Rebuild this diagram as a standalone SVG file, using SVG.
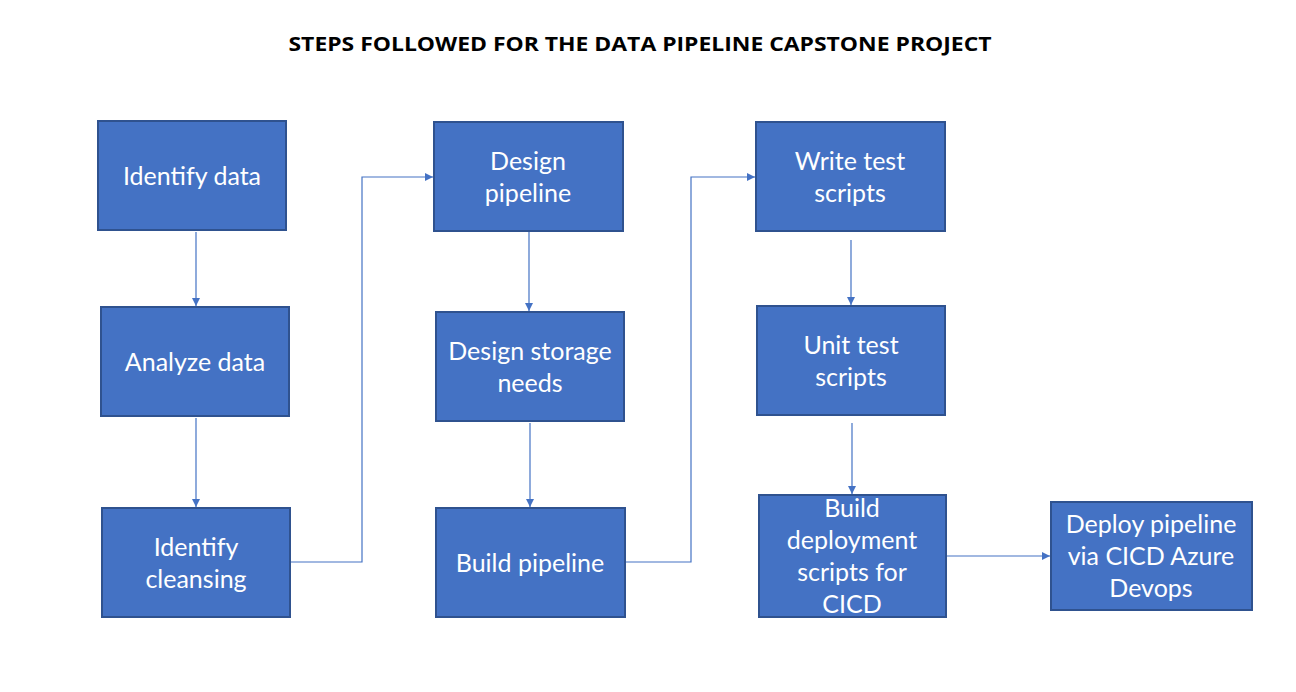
<svg xmlns="http://www.w3.org/2000/svg" width="1296" height="692" viewBox="0 0 1296 692">
<defs>
<style>
.box{fill:#4472C4;stroke:#2F528F;stroke-width:2}
.t{font-family:Lato,"Open Sans",sans-serif;font-size:25px;fill:#fff;text-anchor:middle}
.ttl{font-family:"Open Sans",sans-serif;font-weight:bold;font-size:20px;fill:#000;text-anchor:middle}
.c{fill:none;stroke:#4472C4;stroke-width:1.2}
</style>
<marker id="ah" viewBox="0 0 10 10" refX="10" refY="5" markerWidth="8" markerHeight="8" markerUnits="userSpaceOnUse" orient="auto">
<path d="M0,0L10,5L0,10z" fill="#4472C4"/>
</marker>
</defs>
<rect width="1296" height="692" fill="#fff"/>
<text class="ttl" x="640" y="51" textLength="703" lengthAdjust="spacingAndGlyphs">STEPS FOLLOWED FOR THE DATA PIPELINE CAPSTONE PROJECT</text>
<g id="connectors">
<path class="c" d="M196,232V306" marker-end="url(#ah)"/>
<path class="c" d="M196,418V507" marker-end="url(#ah)"/>
<path class="c" d="M290,562H362V177H433" marker-end="url(#ah)"/>
<path class="c" d="M529,232V311" marker-end="url(#ah)"/>
<path class="c" d="M530,423V507" marker-end="url(#ah)"/>
<path class="c" d="M625,562H691V177H755" marker-end="url(#ah)"/>
<path class="c" d="M851,240V305" marker-end="url(#ah)"/>
<path class="c" d="M852,423V494" marker-end="url(#ah)"/>
<path class="c" d="M946,556H1050" marker-end="url(#ah)"/>
</g>
<g id="n1"><rect class="box" x="98" y="121" width="188" height="109"/><text class="t" x="192" y="185">Identify data</text></g>
<g id="n2"><rect class="box" x="101" y="307" width="188" height="109"/><text class="t" x="195" y="371">Analyze data</text></g>
<g id="n3"><rect class="box" x="102" y="508" width="188" height="109"/><text class="t" x="196" y="556">Identify</text><text class="t" x="196" y="588">cleansing</text></g>
<g id="n4"><rect class="box" x="434" y="122" width="189" height="109"/><text class="t" x="528" y="170">Design</text><text class="t" x="528" y="202">pipeline</text></g>
<g id="n5"><rect class="box" x="436" y="312" width="188" height="109"/><text class="t" x="530" y="360">Design storage</text><text class="t" x="530" y="392">needs</text></g>
<g id="n6"><rect class="box" x="436" y="508" width="189" height="109"/><text class="t" x="530" y="572">Build pipeline</text></g>
<g id="n7"><rect class="box" x="756" y="122" width="189" height="109"/><text class="t" x="850" y="170">Write test</text><text class="t" x="850" y="202">scripts</text></g>
<g id="n8"><rect class="box" x="757" y="306" width="188" height="109"/><text class="t" x="851" y="354">Unit test</text><text class="t" x="851" y="386">scripts</text></g>
<g id="n9"><rect class="box" x="759" y="495" width="187" height="122"/><text class="t" x="852" y="517">Build</text><text class="t" x="852" y="549">deployment</text><text class="t" x="852" y="581">scripts for</text><text class="t" x="852" y="613">CICD</text></g>
<g id="n10"><rect class="box" x="1051" y="502" width="201" height="108"/><text class="t" x="1151" y="533">Deploy pipeline</text><text class="t" x="1151" y="565">via CICD Azure</text><text class="t" x="1151" y="597">Devops</text></g>
</svg>
